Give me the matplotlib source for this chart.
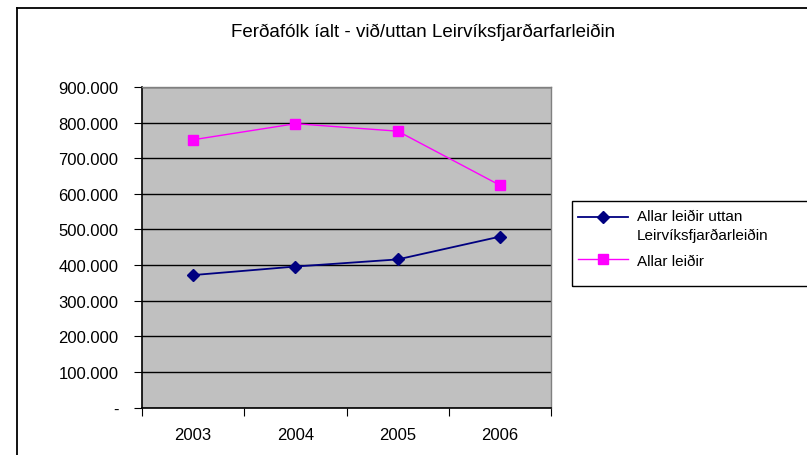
import matplotlib
matplotlib.use("Agg")
import matplotlib.pyplot as plt
from matplotlib.lines import Line2D
from matplotlib.patches import Rectangle
from matplotlib.ticker import FuncFormatter

plt.rcParams['font.family'] = ['Liberation Sans', 'DejaVu Sans']

years = ['2003', '2004', '2005', '2006']
allar_uttan = [372000, 396000, 416000, 480000]
allar = [752000, 797000, 776000, 624000]
label_uttan = 'Allar leiðir uttan\nLeirvíksfjarðarleiðin'
label_allar = 'Allar leiðir'
title = 'Ferðafólk íalt - við/uttan Leirvíksfjarðarfarleiðin'

fig = plt.figure(figsize=(8.07, 4.56), dpi=100)
ax = fig.add_axes([0.176, 0.104, 0.507, 0.703])
ax.set_facecolor('#C0C0C0')

xs = [i + 0.5 for i in range(len(years))]
ax.plot(xs, allar_uttan, color='#000080', marker='D', markersize=6, lw=1.3,
        label=label_uttan)
ax.plot(xs, allar, color='#FF00FF', marker='s', markersize=7, lw=1.0,
        label=label_allar)

ax.set_xlim(0, len(years))
ax.set_ylim(0, 900000)
ax.set_yticks(range(0, 900001, 100000))
ax.yaxis.set_major_formatter(FuncFormatter(
    lambda v, p: '-' if v == 0 else f'{int(v):,}'.replace(',', '.')))
ax.grid(axis='y', color='black', lw=1)
ax.set_axisbelow(True)

ax.set_xticks(range(len(years) + 1))
ax.set_xticklabels([])
ax.set_xticks(xs, minor=True)
ax.set_xticklabels(years, minor=True)
ax.tick_params(axis='x', which='minor', length=0, pad=14, labelsize=12)
ax.tick_params(axis='x', which='major', direction='out', length=6, color='black')
ax.tick_params(axis='y', direction='out', length=6, pad=11, labelsize=12)

for s in ['left', 'bottom']:
    ax.spines[s].set_color('black')
    ax.spines[s].set_linewidth(1.2)
for s in ['top', 'right']:
    ax.spines[s].set_color('#808080')
    ax.spines[s].set_linewidth(1)

fig.text(0.524, 0.928, title, ha='center', va='center', fontsize=13.5)

# outer chart frame (clipped at right and bottom like the original)
fig.add_artist(Line2D([17 / 807, 1.0], [1 - 8.5 / 456, 1 - 8.5 / 456],
                      transform=fig.transFigure, color='black', lw=1.3))
fig.add_artist(Line2D([17 / 807, 17 / 807], [0, 1 - 8.5 / 456],
                      transform=fig.transFigure, color='black', lw=1.3))

# legend box
fig.add_artist(Rectangle((572 / 807, 1 - 287 / 456), 0.4, 85 / 456,
                         transform=fig.transFigure, fill=False,
                         edgecolor='black', lw=1))
leg = fig.legend(loc='upper left', bbox_to_anchor=(578 / 807, 1 - 210 / 456),
                 frameon=False, fontsize=11, handlelength=3.27,
                 handletextpad=0.59, borderaxespad=0, borderpad=0,
                 labelspacing=0.75)
for t in leg.get_texts():
    t.set_linespacing(1.45)
# Excel puts the handle next to the first line of a wrapped label
h0 = leg.legend_handles[0]
h0.set_ydata([y + 6.5 for y in h0.get_ydata()])

fig.savefig('out.png', dpi=100)
